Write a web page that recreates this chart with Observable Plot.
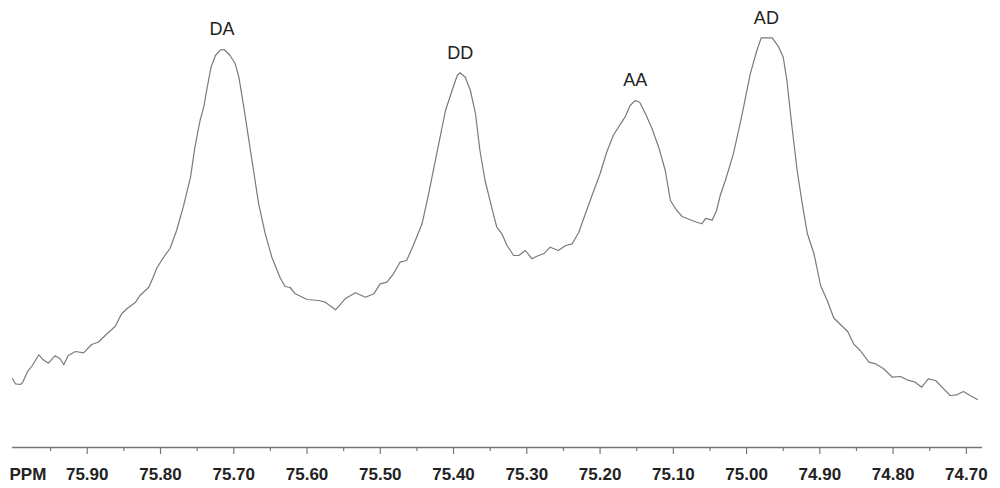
<!DOCTYPE html>
<html><head><meta charset="utf-8">
<script src="https://cdn.jsdelivr.net/npm/d3@7"></script>
<script src="https://cdn.jsdelivr.net/npm/@observablehq/plot@0.6"></script>
<style>body{margin:0;background:#fff}</style>
</head><body><div id="chart"></div>
<script>
// chemical shift (ppm) and relative intensity
const ppm = [76.002,75.998,75.991,75.988,75.982,75.975,75.966,75.960,75.953,75.944,75.937,75.932,75.926,75.916,75.905,
75.894,75.885,75.873,75.862,75.853,75.846,75.834,75.828,75.816,75.810,75.805,75.796,75.787,75.778,75.769,
75.759,75.753,75.746,75.741,75.737,75.731,75.725,75.718,75.713,75.705,75.698,75.693,75.687,75.680,75.673,
75.666,75.657,75.648,75.637,75.630,75.623,75.616,75.600,75.584,75.575,75.561,75.548,75.534,75.520,75.509,
75.500,75.491,75.482,75.473,75.464,75.455,75.443,75.434,75.423,75.411,75.402,75.395,75.391,75.384,75.377,
75.370,75.364,75.357,75.348,75.341,75.334,75.327,75.318,75.311,75.302,75.293,75.284,75.277,75.268,75.257,
75.247,75.238,75.229,75.220,75.211,75.200,75.191,75.182,75.172,75.166,75.159,75.152,75.146,75.138,75.129,
75.120,75.111,75.104,75.097,75.088,75.077,75.068,75.061,75.056,75.047,75.041,75.036,75.029,75.018,75.006,
74.995,74.986,74.980,74.965,74.956,74.950,74.945,74.938,74.931,74.924,74.917,74.908,74.899,74.890,74.881,
74.872,74.862,74.854,74.845,74.833,74.824,74.813,74.801,74.790,74.781,74.770,74.761,74.752,74.742,74.731,
74.722,74.713,74.704,74.695,74.685];
const intensity = [68.7,63.7,63,65.3,75.3,82,92.7,87.7,84.3,91.7,88.7,82.7,92,96,94.7,
103,105.3,113.7,121,133.7,138.7,145.3,152,160.3,170.3,179.5,190,199,217,240.3,
270.3,300.3,327,340.3,357,380.3,392,397.7,398,392,383.7,370.3,343.7,310.3,277,
243.7,213.7,190.3,170.3,161,160,153.7,148,147,145.3,137.7,148.7,154.7,150.3,153.7,
163.7,165.3,173.7,185.3,187,202,223.7,253.7,293.7,337,357,372,374.7,370.3,357,
333.7,297,267,240.3,220.3,213.7,202,192,192,197,188.7,192,193.7,200.3,197,
202,203.7,215.3,233.7,252,273.7,295.3,312,323.7,330.3,342,347,345.3,333.7,318.7,
300.3,277,247,238.7,231,227.7,225.3,223.7,229.2,227.3,237,252,267,293.7,333.7,
373.7,397,409.7,409.7,400.3,390.3,367,320.3,277,243.7,213.7,193.7,162,147,129.5,
123,116,103.7,97,85.3,83.7,78.7,70.3,71,67.7,65.3,60.3,68.7,67,58.7,
52,52.7,56,52,48];

const peakNames = ["DA", "DD", "AA", "AD"];
const peakPpm = [75.716, 75.391, 75.152, 74.973];
const peakHeight = [398, 374.7, 347, 409.7];

const majorTicks = [75.90,75.80,75.70,75.60,75.50,75.40,75.30,75.20,75.10,75.00,74.90,74.80,74.70];
const minorTicks = [75.95,75.85,75.75,75.65,75.55,75.45,75.35,75.25,75.15,75.05,74.95,74.85,74.75];
const axisLabel = "PPM";

const spectrum = ppm.map((p, i) => ({ppm: p, value: intensity[i]}));
const peaks = peakNames.map((n, i) => ({name: n, ppm: peakPpm[i], value: peakHeight[i]}));

const font = "'Liberation Sans', Arial, Helvetica, sans-serif";

const chart = Plot.plot({
  width: 1000,
  height: 488,
  marginTop: 20,
  marginBottom: 41,
  marginLeft: 12,
  marginRight: 18,
  style: {fontFamily: font, background: "#fff", overflow: "visible"},
  x: {domain: [76.002, 74.678], label: null},
  y: {domain: [0, 427], axis: null},
  marks: [
    Plot.axisX(minorTicks, {tickSize: 4, tickFormat: () => "", label: null, stroke: "#777", strokeWidth: 1.2}),
    Plot.axisX(majorTicks, {
      tickSize: 7, tickPadding: 13, tickFormat: d => d.toFixed(2), label: null,
      stroke: "#777", strokeWidth: 1.2,
      fontSize: 17, fontWeight: "bold", fill: "#222"
    }),
    Plot.ruleY([0], {stroke: "#777", strokeWidth: 1.6}),
    Plot.text([axisLabel], {
      frameAnchor: "bottom-left", textAnchor: "start", lineAnchor: "top",
      dx: -3, dy: 20, fontSize: 17, fontWeight: "bold", fill: "#222"
    }),
    Plot.line(spectrum, {x: "ppm", y: "value", stroke: "#7a7a7a", strokeWidth: 1.2}),
    Plot.text(peaks, {
      x: "ppm", y: "value", text: "name", dy: -20, lineAnchor: "middle",
      fontSize: 18, fill: "#222"
    })
  ]
});
document.getElementById("chart").appendChild(chart);
</script>
</body></html>
